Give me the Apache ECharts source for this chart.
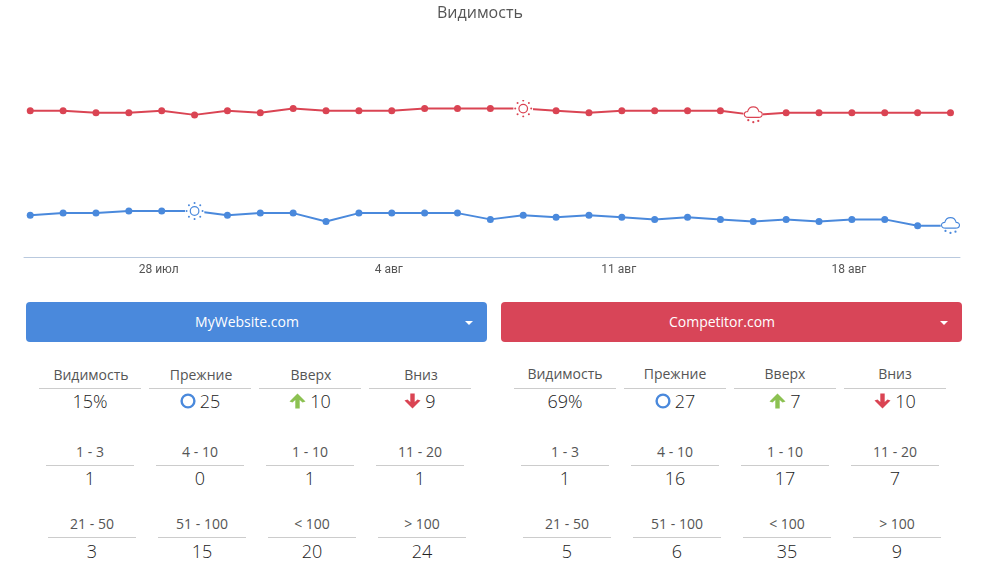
<!DOCTYPE html>
<html>
<head>
<meta charset="utf-8">
<script src="https://cdn.jsdelivr.net/npm/echarts@6/dist/echarts.min.js"></script>
<style>
html, body { margin: 0; padding: 0; background: #fff; overflow: hidden; }
body { width: 986px; height: 563px; position: relative; font-family: "Open Sans", sans-serif; color: #444; }
#chart { position: absolute; left: 0; top: 0; width: 986px; height: 290px; }
.btn { position: absolute; top: 302px; width: 442px; padding-right: 19px; height: 40px; line-height: 40px; border-radius: 4px; color: #fff; text-align: center; font-size: 14px; font-weight: 500; }
.btn i { position: absolute; right: 14px; top: 19px; border-left: 4px solid transparent; border-right: 4px solid transparent; border-top: 4px solid #fff; }
.lbl, .val { position: absolute; text-align: center; white-space: nowrap; }
.lbl { font-size: 14px; height: 20px; line-height: 20px; color: #555; }
.val { font-size: 18px; font-weight: 300; height: 26px; line-height: 26px; color: #222; display: flex; align-items: center; justify-content: center; gap: 4px; }
.rule { position: absolute; height: 1px; background: #ccc; }
</style>
</head>
<body>
<div id="chart"></div>
<div id="panels"></div>
<script>
const BLUE = '#4a89dc';
const RED = '#da4453';
const RED_BUTTON = '#d84558';
const GREEN = '#8cc152';

const days = ['24 июл', '25 июл', '26 июл', '27 июл', '28 июл', '29 июл', '30 июл', '31 июл', '1 авг', '2 авг',
    '3 авг', '4 авг', '5 авг', '6 авг', '7 авг', '8 авг', '9 авг', '10 авг', '11 авг', '12 авг',
    '13 авг', '14 авг', '15 авг', '16 авг', '17 авг', '18 авг', '19 авг', '20 авг', '21 авг'];
const labelDays = [4, 11, 18, 25];
const myWebsite = [20, 21, 21, 22, 22, 22, 20, 21, 21, 17, 21, 21, 21, 21, 18, 20, 19, 20, 19, 18, 19, 18, 17, 18, 17, 18, 18, 15, 15];
const competitor = [70, 70, 69, 69, 70, 68, 70, 69, 71, 70, 70, 70, 71, 71, 71, 71, 70, 69, 70, 70, 70, 70, 68, 69, 69, 69, 69, 69, 69];

// best / worst day of each site get a weather icon instead of a dot
const myWebsiteIcons = { 5: 'sun', 28: 'cloud' };
const competitorIcons = { 15: 'sun', 22: 'cloud' };

const headers = ['Видимость', 'Прежние', 'Вверх', 'Вниз'];
const rangesA = ['1 - 3', '4 - 10', '1 - 10', '11 - 20'];
const rangesB = ['21 - 50', '51 - 100', '< 100', '> 100'];

const myWebsiteTop = ['15%', '25', '10', '9'];
const myWebsiteA = ['1', '0', '1', '1'];
const myWebsiteB = ['3', '15', '20', '24'];
const competitorTop = ['69%', '27', '7', '10'];
const competitorA = ['1', '16', '17', '7'];
const competitorB = ['5', '6', '35', '9'];

function iconSymbol(kind, color) {
    let body;
    if (kind === 'sun') {
        let rays = '';
        for (let a = 0; a < 8; a++) {
            const r = a * Math.PI / 4;
            rays += `<circle cx="${10 + 8 * Math.cos(r)}" cy="${9 + 8 * Math.sin(r)}" r="1" fill="${color}"/>`;
        }
        body = `<circle cx="10" cy="9" r="4.3" fill="none" stroke="${color}" stroke-width="1.2"/>` + rays;
    } else {
        body = `<path d="M5 11.5C2.4 11.5 1 10.2 1 8.4C1 6.8 2.4 5.6 4.3 5.7C5 3 7.2 1 10 1C12.8 1 15 3 15.7 5.7C17.6 5.6 19 6.8 19 8.4C19 10.2 17.6 11.5 15 11.5Z" fill="none" stroke="${color}" stroke-width="1.1"/>`
            + `<circle cx="5" cy="14.3" r="1.1" fill="${color}"/><circle cx="10" cy="16.3" r="1.1" fill="${color}"/><circle cx="15" cy="15" r="1.1" fill="${color}"/>`;
    }
    const svg = `<svg xmlns="http://www.w3.org/2000/svg" width="20" height="18" viewBox="0 0 20 18"><rect width="20" height="18" fill="#fff"/>${body}</svg>`;
    return 'image://data:image/svg+xml;charset=utf-8,' + encodeURIComponent(svg);
}

function seriesData(values, icons, color) {
    return values.map((v, i) => {
        if (icons[i]) {
            return { value: [i, v], symbol: iconSymbol(icons[i], color), symbolSize: [20, 18] };
        }
        return [i, v];
    });
}

function lineSeries(name, values, icons, color) {
    return {
        name: name,
        type: 'line',
        data: seriesData(values, icons, color),
        symbol: 'circle',
        symbolSize: 7,
        showSymbol: true,
        lineStyle: { color: color, width: 2 },
        itemStyle: { color: color },
        animation: false,
        silent: true
    };
}

const chart = echarts.init(document.getElementById('chart'));
chart.setOption({
    title: {
        text: 'Видимость',
        left: 432,
        top: 0,
        textStyle: { fontFamily: 'Open Sans', fontSize: 16, fontWeight: 'normal', color: '#555' }
    },
    grid: { left: 24, right: 26, top: 48, bottom: 33 },
    xAxis: {
        type: 'value',
        min: -0.19,
        max: 28.29,
        splitLine: { show: false },
        axisLine: { show: true, lineStyle: { color: '#b9c9de' } },
        axisTick: { show: false },
        axisLabel: {
            customValues: labelDays,
            formatter: v => days[v],
            fontFamily: 'Roboto',
            fontSize: 12,
            color: '#555',
            margin: 7,
            padding: [0, 6, 0, 0]
        }
    },
    yAxis: { type: 'value', min: 0, max: 100, show: false },
    series: [
        lineSeries('MyWebsite.com', myWebsite, myWebsiteIcons, BLUE),
        lineSeries('Competitor.com', competitor, competitorIcons, RED)
    ]
});

const ICONS = {
    same: `<svg width="16" height="16" viewBox="0 0 16 16"><circle cx="8" cy="8" r="6.4" fill="none" stroke="${BLUE}" stroke-width="2.4"/></svg>`,
    up: `<svg width="17" height="16" viewBox="0 0 17 16"><path d="M8.5 0.5L16.5 8.5L13.5 9.5L10.7 7V15.5H6.3V7L3.5 9.5L0.5 8.5Z" fill="${GREEN}"/></svg>`,
    down: `<svg width="17" height="16" viewBox="0 0 17 16"><path d="M8.5 15.5L16.5 7.5L13.5 6.5L10.7 9V0.5H6.3V9L3.5 6.5L0.5 7.5Z" fill="${RED}"/></svg>`
};
const topIcons = [null, 'same', 'up', 'down'];

const panels = document.getElementById('panels');

function addEl(cls, left, top, width, html) {
    const el = document.createElement('div');
    el.className = cls;
    el.style.left = left + 'px';
    el.style.top = top + 'px';
    if (width !== null) el.style.width = width + 'px';
    if (html !== null) el.innerHTML = html;
    panels.appendChild(el);
    return el;
}

function esc(s) {
    return s.replace(/</g, '&lt;').replace(/>/g, '&gt;');
}

function drawPanel(offset, headerShift, name, color, top, rowA, rowB) {
    const btn = addEl('btn', 26 + offset, 302, null, name + '<i></i>');
    btn.style.background = color;
    for (let c = 0; c < 4; c++) {
        const step = 110 * c + offset;
        addEl('lbl', 39 + step + headerShift, 364 + headerShift, 102, headers[c]);
        addEl('rule', 39 + step, 388, 102, null);
        const icon = topIcons[c] ? ICONS[topIcons[c]] : '';
        addEl('val', 39 + step, 388, 102, icon + '<span>' + top[c] + '</span>');

        addEl('lbl', 46 + step, 442, 88, esc(rangesA[c]));
        addEl('rule', 46 + step, 465, 88, null);
        addEl('val', 46 + step, 465, 88, '<span>' + rowA[c] + '</span>');

        addEl('lbl', 48 + step, 514, 88, esc(rangesB[c]));
        addEl('rule', 48 + step, 537, 88, null);
        addEl('val', 48 + step, 538, 88, '<span>' + rowB[c] + '</span>');
    }
}

drawPanel(0, 1, 'MyWebsite.com', BLUE, myWebsiteTop, myWebsiteA, myWebsiteB);
drawPanel(475, 0, 'Competitor.com', RED_BUTTON, competitorTop, competitorA, competitorB);
</script>
</body>
</html>
